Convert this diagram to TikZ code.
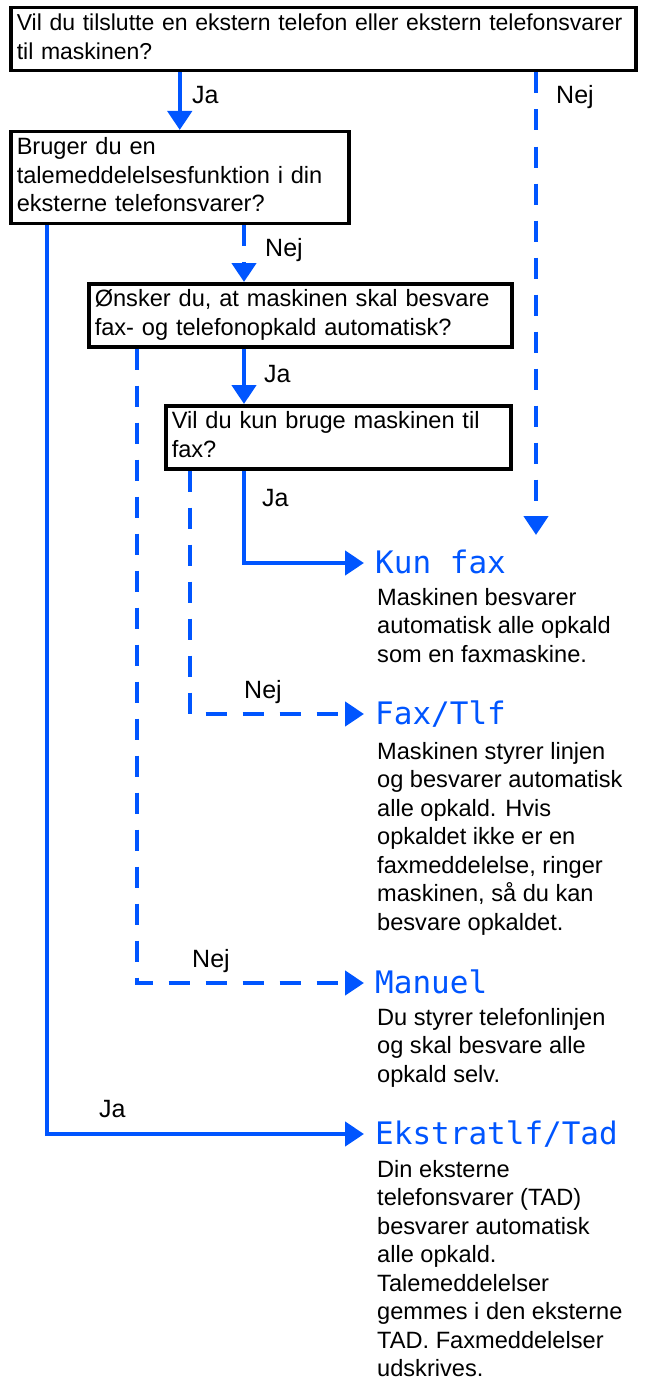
\documentclass[tikz,border=0pt]{standalone}
\usepackage{fontspec}
\setmainfont{Liberation Sans}
\newfontfamily\lcdfont{DejaVu Sans Mono}
\usetikzlibrary{arrows.meta,positioning}
\definecolor{flowblue}{RGB}{0,85,255}

\begin{document}
\begin{tikzpicture}[x=1pt,y=-1pt,
  font=\fontsize{23.6}{28.5}\selectfont,
  qbox/.style={draw,line width=3.5pt,anchor=north west,align=left,inner xsep=6pt,inner ysep=3pt,
    execute at begin node=\strut,execute at end node=\strut},
  mode/.style={anchor=base west,inner sep=0pt,text height=20pt,text depth=0pt,text=flowblue,
    font=\lcdfont\fontsize{31}{31}\selectfont},
  desc/.style={anchor=north west,align=left,inner sep=0pt,execute at begin node=\strut},
  lbl/.style={anchor=base west,inner sep=0pt,font=\fontsize{25}{30}\selectfont},
  yes/.style={-{Triangle[length=19pt,width=24pt]},flowblue,line width=4.5pt,shorten >=0pt},
  no/.style={yes,dash pattern=on 21pt off 16pt},
  tomode/.style={shorten >=11pt}]
  \useasboundingbox (0,0) rectangle (645,1386);

  % columns of the vertical connectors (x positions)
  \coordinate (colA) at (47,0);
  \coordinate (colB) at (137,0);
  \coordinate (colC) at (190,0);
  \coordinate (colD) at (244,0);
  \coordinate (colE) at (536,0);

  % ---- questions ----
  \node[qbox,text width=613pt,font=\fontsize{23}{28.5}\selectfont] (q1) at (9,6)
    {Vil du tilslutte en ekstern telefon eller ekstern telefonsvarer\\til maskinen?};
  \node[qbox,text width=326pt] (q2) at (9,130)
    {Bruger du en\\talemeddelelsesfunktion i din\\eksterne telefonsvarer?};
  \node[qbox,text width=411pt] (q3) at (87,282)
    {Ønsker du, at maskinen skal besvare\\fax- og telefonopkald automatisk?};
  \node[qbox,text width=333pt] (q4) at (164,404)
    {Vil du kun bruge maskinen til\\fax?};

  % ---- modes (label + explanation) ----
  \node[mode] (kunfax) at (375,573) {Kun fax};
  \node[desc] (kunfaxd) at (377,588)
    {Maskinen besvarer\\automatisk alle opkald\\som en faxmaskine.};
  \node[mode] (faxtlf) at (375,724) {Fax/Tlf};
  \node[desc] (faxtlfd) at (377,742)
    {Maskinen styrer linjen\\og besvarer automatisk\\alle opkald. Hvis\\opkaldet ikke er en\\faxmeddelelse, ringer\\maskinen, så du kan\\besvare opkaldet.};
  \node[mode] (manuel) at (375,993) {Manuel};
  \node[desc] (manueld) at (377,1008)
    {Du styrer telefonlinjen\\og skal besvare alle\\opkald selv.};
  \node[mode] (ekstra) at (375,1144) {Ekstratlf/Tad};
  \node[desc] (ekstrad) at (377,1160)
    {Din eksterne\\telefonsvarer (TAD)\\besvarer automatisk\\alle opkald.\\Talemeddelelser\\gemmes i den eksterne\\TAD. Faxmeddelelser\\udskrives.};

  % end of the long "Nej" line above Kun fax
  \coordinate (nejend) at (536,535);

  % ---- connectors ----
  \draw[yes] (q1.south -| q2.north) -- (q2.north);
  \draw[no] (q1.south -| colE) -- (nejend);
  \draw[yes,tomode] (q2.south -| colA) |- (ekstra.west);
  \draw[no] (q2.south -| colD) -- (q3.north -| colD);
  \draw[yes] (q3.south -| colD) -- (q4.north -| colD);
  \draw[no,tomode] (q3.south -| colB) |- (manuel.west);
  \draw[yes,tomode] (q4.south -| colD) |- (kunfax.west);
  \draw[no,tomode] (q4.south -| colC) |- (faxtlf.west);

  % ---- answers ----
  \node[lbl] (ja1) at (192,104) {Ja};
  \node[lbl] (nej1) at (556,104) {Nej};
  \node[lbl] (nej2) at (265,256) {Nej};
  \node[lbl] (ja2) at (264,382) {Ja};
  \node[lbl] (ja3) at (262,506) {Ja};
  \node[lbl] (nej3) at (244,698) {Nej};
  \node[lbl] (nej4) at (192,967) {Nej};
  \node[lbl] (ja4) at (99,1117) {Ja};
\end{tikzpicture}
\end{document}
